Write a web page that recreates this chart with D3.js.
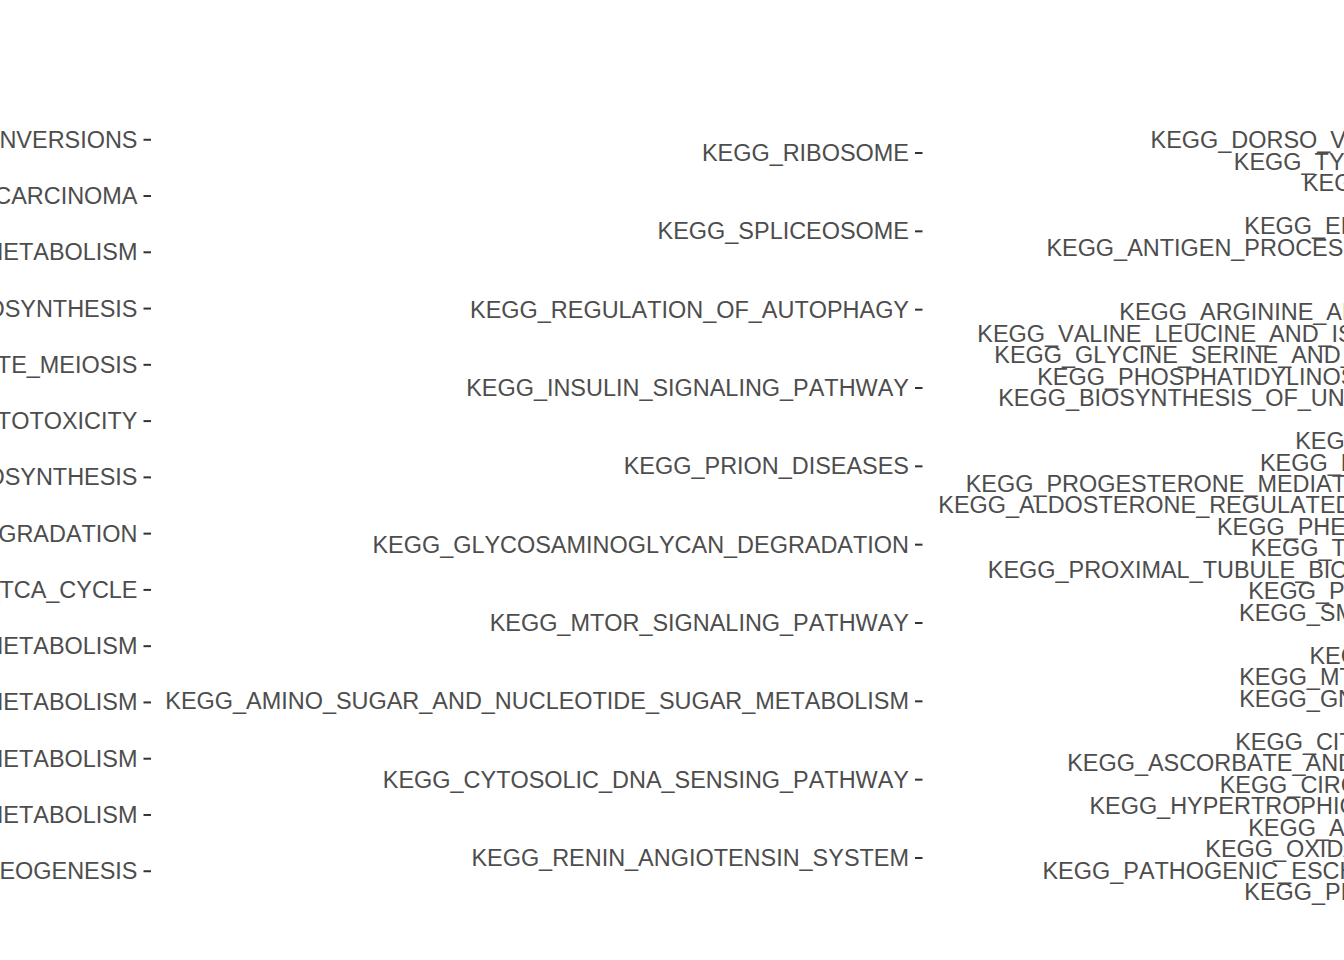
<!DOCTYPE html>
<html>
<head>
<meta charset="utf-8">
<script src="https://cdn.jsdelivr.net/npm/d3@7"></script>
<style>
  html, body { margin: 0; padding: 0; background: #ffffff; }
  svg { display: block; }
  .tick text { font-kerning: none; font-feature-settings: "kern" 0; }
</style>
</head>
<body>
<div id="chart"></div>
<script>
// Pathway labels, listed top to bottom for each of the three panels
const panel1Labels = [
  "KEGG_PENTOSE_AND_GLUCURONATE_INTERCONVERSIONS",
  "KEGG_RENAL_CELL_CARCINOMA",
  "KEGG_GLYCEROPHOSPHOLIPID_METABOLISM",
  "KEGG_STEROID_BIOSYNTHESIS",
  "KEGG_OOCYTE_MEIOSIS",
  "KEGG_NATURAL_KILLER_CELL_MEDIATED_CYTOTOXICITY",
  "KEGG_N_GLYCAN_BIOSYNTHESIS",
  "KEGG_LYSINE_DEGRADATION",
  "KEGG_CITRATE_CYCLE_TCA_CYCLE",
  "KEGG_PYRUVATE_METABOLISM",
  "KEGG_GLUTATHIONE_METABOLISM",
  "KEGG_PURINE_METABOLISM",
  "KEGG_FRUCTOSE_AND_MANNOSE_METABOLISM",
  "KEGG_GLYCOLYSIS_GLUCONEOGENESIS"
];

const panel2Labels = [
  "KEGG_RIBOSOME",
  "KEGG_SPLICEOSOME",
  "KEGG_REGULATION_OF_AUTOPHAGY",
  "KEGG_INSULIN_SIGNALING_PATHWAY",
  "KEGG_PRION_DISEASES",
  "KEGG_GLYCOSAMINOGLYCAN_DEGRADATION",
  "KEGG_MTOR_SIGNALING_PATHWAY",
  "KEGG_AMINO_SUGAR_AND_NUCLEOTIDE_SUGAR_METABOLISM",
  "KEGG_CYTOSOLIC_DNA_SENSING_PATHWAY",
  "KEGG_RENIN_ANGIOTENSIN_SYSTEM"
];

const panel3Labels = [
  "KEGG_PEROXISOME",
  "KEGG_DORSO_VENTRAL_AXIS_FORMATION",
  "KEGG_TYPE_II_DIABETES_MELLITUS",
  "KEGG_TASTE_TRANSDUCTION",
  "KEGG_LYSOSOME",
  "KEGG_ERBB_SIGNALING_PATHWAY",
  "KEGG_ANTIGEN_PROCESSING_AND_PRESENTATION",
  "KEGG_ENDOCYTOSIS",
  "KEGG_APOPTOSIS",
  "KEGG_ARGININE_AND_PROLINE_METABOLISM",
  "KEGG_VALINE_LEUCINE_AND_ISOLEUCINE_DEGRADATION",
  "KEGG_GLYCINE_SERINE_AND_THREONINE_METABOLISM",
  "KEGG_PHOSPHATIDYLINOSITOL_SIGNALING_SYSTEM",
  "KEGG_BIOSYNTHESIS_OF_UNSATURATED_FATTY_ACIDS",
  "KEGG_GAP_JUNCTION",
  "KEGG_HISTIDINE_METABOLISM",
  "KEGG_ETHER_LIPID_METABOLISM",
  "KEGG_PROGESTERONE_MEDIATED_OOCYTE_MATURATION",
  "KEGG_ALDOSTERONE_REGULATED_SODIUM_REABSORPTION",
  "KEGG_PHENYLALANINE_METABOLISM",
  "KEGG_TRYPTOPHAN_METABOLISM",
  "KEGG_PROXIMAL_TUBULE_BICARBONATE_RECLAMATION",
  "KEGG_PROPANOATE_METABOLISM",
  "KEGG_SMALL_CELL_LUNG_CANCER",
  "KEGG_PROTEASOME",
  "KEGG_RETINOL_METABOLISM",
  "KEGG_MTOR_SIGNALING_PATHWAY",
  "KEGG_GNRH_SIGNALING_PATHWAY",
  "KEGG_GLIOMA",
  "KEGG_CITRATE_CYCLE_TCA_CYCLE",
  "KEGG_ASCORBATE_AND_ALDARATE_METABOLISM",
  "KEGG_CIRCADIAN_RHYTHM_MAMMAL",
  "KEGG_HYPERTROPHIC_CARDIOMYOPATHY_HCM",
  "KEGG_ACUTE_MYELOID_LEUKEMIA",
  "KEGG_OXIDATIVE_PHOSPHORYLATION",
  "KEGG_PATHOGENIC_ESCHERICHIA_COLI_INFECTION",
  "KEGG_PPAR_SIGNALING_PATHWAY"
];

const W = 1344, H = 960;
const svg = d3.select("#chart").append("svg")
  .attr("width", W).attr("height", H)
  .style("background", "#ffffff");

const plotTop = 105.5, plotBottom = 904.5;
const panels = [
  { labels: panel1Labels, axisX: 151 },
  { labels: panel2Labels, axisX: 922.5 },
  { labels: panel3Labels, axisX: 1672 }
];

panels.forEach(p => {
  const y = d3.scalePoint()
    .domain(p.labels)
    .range([plotTop, plotBottom])
    .padding(0.6);
  const axis = d3.axisLeft(y).tickSize(7.5).tickPadding(6);
  const g = svg.append("g")
    .attr("transform", `translate(${p.axisX},0)`)
    .call(axis);
  g.select(".domain").remove();
  g.selectAll(".tick line")
    .attr("stroke", "#333333")
    .attr("stroke-width", 2);
  g.selectAll(".tick text")
    .attr("fill", "#4D4D4D")
    .attr("dy", "0.34em")
    .style("font-family", "'Liberation Sans', Arial, Helvetica, sans-serif")
    .style("font-size", "23.45px");
});
</script>
</body>
</html>
